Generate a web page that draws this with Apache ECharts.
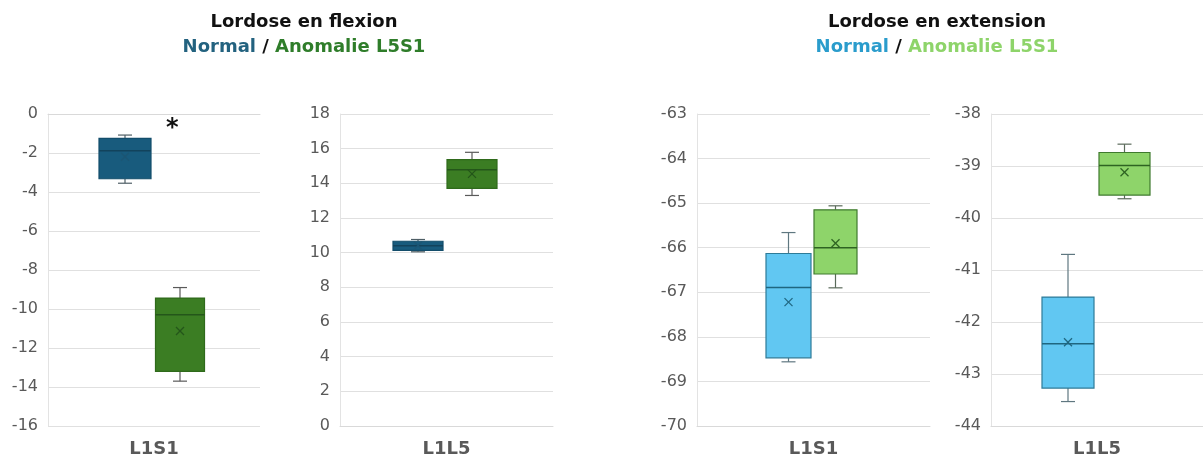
<!DOCTYPE html>
<html>
<head>
<meta charset="utf-8">
<script src="https://cdn.jsdelivr.net/npm/echarts@6/dist/echarts.min.js"></script>
<style>
  html, body { margin: 0; padding: 0; background: #fff; }
  #chart { width: 1203px; height: 459px; }
</style>
</head>
<body>
<div id="chart"></div>
<script>
// categories
var categories = ['L1S1', 'L1L5', 'L1S1', 'L1L5'];

// [min, q1, median, q3, max, mean]
var flexionL1S1Normal = [-3.55, -3.32, -1.88, -1.25, -1.08, -2.19];
var flexionL1S1Anomalie = [-13.7, -13.2, -10.3, -9.44, -8.9, -11.13];
var flexionL1L5Normal = [10.05, 10.13, 10.4, 10.66, 10.76, 10.4];
var flexionL1L5Anomalie = [13.3, 13.71, 14.79, 15.37, 15.79, 14.55];
var extensionL1S1Normal = [-68.56, -68.47, -66.89, -66.13, -65.66, -67.22];
var extensionL1S1Anomalie = [-66.9, -66.59, -66.0, -65.15, -65.06, -65.9];
var extensionL1L5Normal = [-43.53, -43.27, -42.42, -41.52, -40.7, -42.39];
var extensionL1L5Anomalie = [-39.63, -39.56, -38.99, -38.74, -38.58, -39.12];

// y axis ticks: min, max, step
var yMin = [-16, 0, -70, -44];
var yMax = [0, 18, -63, -38];
var yStep = [2, 2, 1, 1];

var normalData = [flexionL1S1Normal, flexionL1L5Normal, extensionL1S1Normal, extensionL1L5Normal];
var anomalieData = [flexionL1S1Anomalie, flexionL1L5Anomalie, extensionL1S1Anomalie, extensionL1L5Anomalie];

// layout of each panel (px)
var panels = [
  { left: 48, width: 212, off: [-29, 26], w: [52, 49] },
  { left: 340, width: 213, off: [-28.5, 25.5], w: [50, 50] },
  { left: 697, width: 233, off: [-25, 22], w: [45, 43] },
  { left: 991, width: 218, off: [-29, 27.5], w: [52, 51] }
];

var FONT = 'DejaVu Sans';

var styles = [
  // flexion normal / anomalie
  [{ fill: '#185b7d', stroke: '#134d6b', whisker: '#4f5f66', median: '#12435c', mark: '#1c5674' },
   { fill: '#3b7d23', stroke: '#2f6a1b', whisker: '#5a5a5a', median: '#24561a', mark: '#24561a' }],
  // extension normal / anomalie
  [{ fill: '#61c7f2', stroke: '#2e7b98', whisker: '#5f7780', median: '#1f6680', mark: '#1f6680' },
   { fill: '#8ed46a', stroke: '#3f7a2e', whisker: '#5a6a5a', median: '#2e6322', mark: '#2e6322' }]
];

function makeRender(offset, boxW, st) {
  return function (params, api) {
    var x = api.value(0);
    var cx = api.coord([x, api.value(3)])[0] + offset;
    var yMinP = api.coord([x, api.value(1)])[1];
    var yQ1 = api.coord([x, api.value(2)])[1];
    var yMed = api.coord([x, api.value(3)])[1];
    var yQ3 = api.coord([x, api.value(4)])[1];
    var yMaxP = api.coord([x, api.value(5)])[1];
    var yMean = api.coord([x, api.value(6)])[1];
    var half = boxW / 2;
    var cap = 7;
    var m = 4;
    var wStyle = { stroke: st.whisker, lineWidth: 1.2 };
    return {
      type: 'group',
      children: [
        { type: 'line', shape: { x1: cx, y1: yQ3, x2: cx, y2: yMaxP }, style: wStyle },
        { type: 'line', shape: { x1: cx, y1: yQ1, x2: cx, y2: yMinP }, style: wStyle },
        { type: 'line', shape: { x1: cx - cap, y1: yMaxP, x2: cx + cap, y2: yMaxP }, style: wStyle },
        { type: 'line', shape: { x1: cx - cap, y1: yMinP, x2: cx + cap, y2: yMinP }, style: wStyle },
        { type: 'rect', shape: { x: cx - half, y: yQ3, width: boxW, height: yQ1 - yQ3 },
          style: { fill: st.fill, stroke: st.stroke, lineWidth: 1.2 } },
        { type: 'line', shape: { x1: cx - half, y1: yMed, x2: cx + half, y2: yMed },
          style: { stroke: st.median, lineWidth: 1.5 } },
        { type: 'line', shape: { x1: cx - m, y1: yMean - m, x2: cx + m, y2: yMean + m },
          style: { stroke: st.mark, lineWidth: 1.2 } },
        { type: 'line', shape: { x1: cx - m, y1: yMean + m, x2: cx + m, y2: yMean - m },
          style: { stroke: st.mark, lineWidth: 1.2 } }
      ]
    };
  };
}

var grids = [], xAxes = [], yAxes = [], series = [];
panels.forEach(function (p, i) {
  grids.push({ left: p.left, width: p.width, top: 114, height: 312 });
  xAxes.push({
    type: 'category', gridIndex: i, data: [categories[i]],
    axisLine: { show: true, lineStyle: { color: '#d9d9d9' } },
    axisTick: { show: false },
    axisLabel: { color: '#595959', fontSize: 18, fontWeight: 'bold', margin: 14, fontFamily: FONT }
  });
  yAxes.push({
    type: 'value', gridIndex: i, min: yMin[i], max: yMax[i], interval: yStep[i],
    axisLine: { show: true, lineStyle: { color: '#e3e3e3' } },
    axisTick: { show: false },
    splitLine: { lineStyle: { color: '#e0e0e0' } },
    axisLabel: { color: '#595959', fontSize: 16, margin: 10, fontFamily: FONT }
  });
  var st = styles[i < 2 ? 0 : 1];
  [normalData[i], anomalieData[i]].forEach(function (d, k) {
    series.push({
      type: 'custom',
      name: k === 0 ? 'Normal' : 'Anomalie L5S1',
      xAxisIndex: i, yAxisIndex: i,
      data: [[0].concat(d)],
      encode: { x: 0, y: [1, 2, 3, 4, 5, 6] },
      renderItem: makeRender(p.off[k], p.w[k], st[k]),
      silent: true
    });
  });
});

function titleRich(normalColor, anomColor) {
  return {
    fontSize: 18, fontWeight: 'bold', fontFamily: FONT,
    rich: {
      n: { fontSize: 18, fontWeight: 'bold', color: normalColor, fontFamily: FONT },
      s: { fontSize: 18, fontWeight: 'bold', color: '#111', fontFamily: FONT },
      a: { fontSize: 18, fontWeight: 'bold', color: anomColor, fontFamily: FONT }
    }
  };
}

var chart = echarts.init(document.getElementById('chart'));
chart.setOption({
  backgroundColor: '#fff',
  animation: false,
  title: [
    {
      text: 'Lordose en flexion',
      subtext: '{n|Normal} {s|/} {a|Anomalie L5S1}',
      left: 299, top: 8, textAlign: 'center', itemGap: 7,
      textStyle: { fontSize: 18, fontWeight: 'bold', color: '#111', fontFamily: FONT },
      subtextStyle: titleRich('#23627f', '#2f7d2a')
    },
    {
      text: 'Lordose en extension',
      subtext: '{n|Normal} {s|/} {a|Anomalie L5S1}',
      left: 932, top: 8, textAlign: 'center', itemGap: 7,
      textStyle: { fontSize: 18, fontWeight: 'bold', color: '#111', fontFamily: FONT },
      subtextStyle: titleRich('#2a9ccc', '#8ed46a')
    }
  ],
  grid: grids,
  xAxis: xAxes,
  yAxis: yAxes,
  series: series,
  graphic: [
    { type: 'text', left: 166, top: 117, style: { text: '*', fontSize: 24, fontWeight: 'bold', fill: '#111', fontFamily: FONT } }
  ]
});
</script>
</body>
</html>
